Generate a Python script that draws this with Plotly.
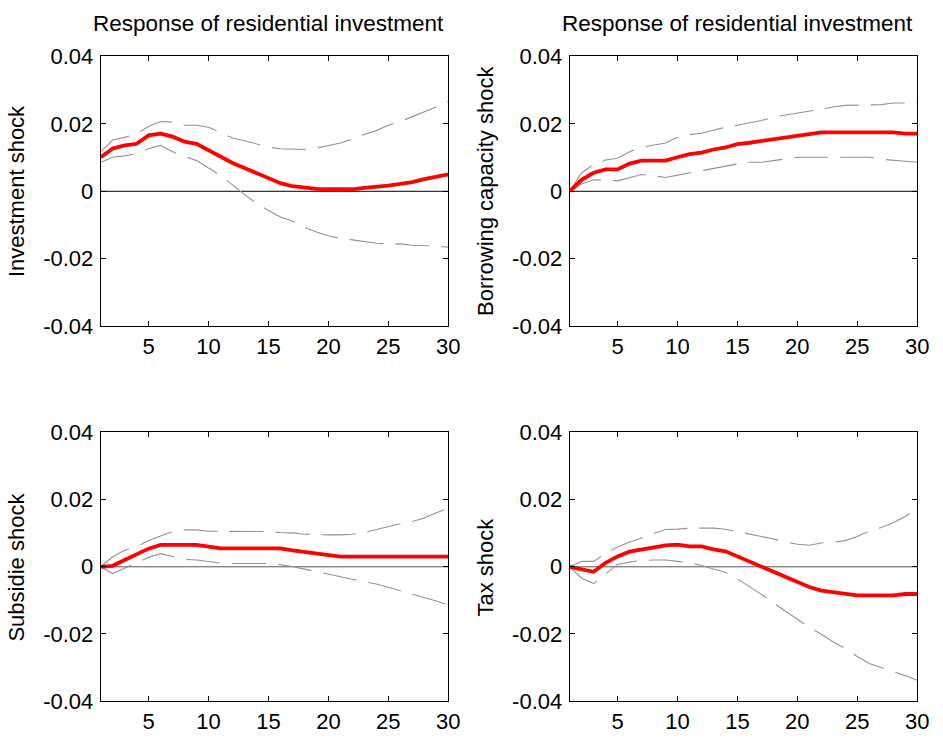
import plotly.graph_objects as go

horizon = list(range(1, 31))

# Investment shock
inv_irf = [0.0101, 0.0127, 0.0136, 0.0141, 0.0166, 0.0171, 0.0162, 0.0147, 0.0141, 0.0122,
           0.0103, 0.0084, 0.0069, 0.0053, 0.0038, 0.0024, 0.0015, 0.0010, 0.0007, 0.0006,
           0.0006, 0.0006, 0.0010, 0.0013, 0.0017, 0.0022, 0.0027, 0.0036, 0.0044, 0.0050]
inv_hi = [0.0117, 0.0152, 0.0160, 0.0170, 0.0193, 0.0207, 0.0205, 0.0196, 0.0196, 0.0190,
          0.0174, 0.0158, 0.0150, 0.0141, 0.0131, 0.0126, 0.0124, 0.0124, 0.0128, 0.0136,
          0.0143, 0.0155, 0.0169, 0.0180, 0.0196, 0.0207, 0.0221, 0.0236, 0.0250, 0.0267]
inv_lo = [0.0086, 0.0101, 0.0105, 0.0112, 0.0126, 0.0136, 0.0117, 0.0103, 0.0091, 0.0069,
          0.0046, 0.0019, -0.0010, -0.0035, -0.0057, -0.0076, -0.0089, -0.0107, -0.0121, -0.0132,
          -0.0140, -0.0144, -0.0149, -0.0154, -0.0156, -0.0156, -0.0160, -0.0161, -0.0162, -0.0166]

# Borrowing capacity shock
bor_irf = [0.0, 0.0034, 0.0055, 0.0065, 0.0065, 0.0082, 0.0091, 0.0091, 0.0091, 0.0101,
           0.0110, 0.0115, 0.0124, 0.0130, 0.0140, 0.0144, 0.0149, 0.0154, 0.0160, 0.0164,
           0.0169, 0.0175, 0.0175, 0.0175, 0.0175, 0.0175, 0.0175, 0.0175, 0.0171, 0.0171]
bor_hi = [0.0, 0.0055, 0.0079, 0.0093, 0.0098, 0.0117, 0.0131, 0.0136, 0.0143, 0.0160,
          0.0168, 0.0172, 0.0181, 0.0190, 0.0196, 0.0202, 0.0210, 0.0220, 0.0226, 0.0234,
          0.0240, 0.0245, 0.0250, 0.0255, 0.0255, 0.0255, 0.0257, 0.0262, 0.0262, 0.0262]
bor_lo = [0.0, 0.0022, 0.0034, 0.0034, 0.0031, 0.0041, 0.0050, 0.0046, 0.0041, 0.0048,
          0.0055, 0.0060, 0.0069, 0.0074, 0.0081, 0.0086, 0.0086, 0.0091, 0.0096, 0.0101,
          0.0101, 0.0101, 0.0101, 0.0101, 0.0101, 0.0101, 0.0095, 0.0093, 0.0089, 0.0086]

# Subsidie shock
sub_irf = [0.0, 0.0003, 0.0020, 0.0037, 0.0054, 0.0065, 0.0065, 0.0065, 0.0065, 0.0060,
           0.0055, 0.0055, 0.0055, 0.0055, 0.0055, 0.0055, 0.0049, 0.0044, 0.0039, 0.0035,
           0.0030, 0.0030, 0.0030, 0.0030, 0.0030, 0.0030, 0.0030, 0.0030, 0.0030, 0.0030]
sub_hi = [0.0, 0.0030, 0.0049, 0.0060, 0.0078, 0.0092, 0.0105, 0.0110, 0.0110, 0.0106,
          0.0105, 0.0105, 0.0105, 0.0105, 0.0105, 0.0102, 0.0101, 0.0097, 0.0095, 0.0095,
          0.0095, 0.0097, 0.0102, 0.0111, 0.0118, 0.0128, 0.0135, 0.0145, 0.0161, 0.0174]
sub_lo = [0.0, -0.0020, -0.0004, 0.0012, 0.0028, 0.0039, 0.0030, 0.0022, 0.0020, 0.0015,
          0.0011, 0.0010, 0.0010, 0.0010, 0.0010, 0.0006, 0.0001, -0.0007, -0.0014, -0.0022,
          -0.0030, -0.0037, -0.0045, -0.0051, -0.0061, -0.0071, -0.0081, -0.0090, -0.0102, -0.0114]

# Tax shock
tax_irf = [0.0, -0.0008, -0.0015, 0.0012, 0.0031, 0.0045, 0.0052, 0.0059, 0.0064, 0.0066,
           0.0061, 0.0061, 0.0052, 0.0046, 0.0031, 0.0014, 0.0000, -0.0015, -0.0031, -0.0046,
           -0.0060, -0.0071, -0.0076, -0.0080, -0.0085, -0.0085, -0.0085, -0.0085, -0.0081, -0.0081]
tax_hi = [0.0, 0.0016, 0.0016, 0.0040, 0.0059, 0.0074, 0.0086, 0.0098, 0.0111, 0.0112,
          0.0115, 0.0115, 0.0115, 0.0112, 0.0105, 0.0098, 0.0091, 0.0083, 0.0074, 0.0067,
          0.0064, 0.0071, 0.0073, 0.0078, 0.0090, 0.0107, 0.0117, 0.0131, 0.0150, 0.0175]
tax_lo = [0.0, -0.0034, -0.0050, -0.0022, 0.0007, 0.0014, 0.0019, 0.0020, 0.0020, 0.0016,
          0.0012, 0.0004, -0.0006, -0.0017, -0.0036, -0.0058, -0.0082, -0.0108, -0.0132, -0.0156,
          -0.0180, -0.0201, -0.0224, -0.0243, -0.0267, -0.0288, -0.0300, -0.0310, -0.0324, -0.0338]

panel_titles = ["Response of residential investment", "Response of residential investment", "", ""]
shock_labels = ["Investment shock", "Borrowing capacity shock", "Subsidie shock", "Tax shock"]
x_ticks = [5, 10, 15, 20, 25, 30]
y_ticks = [-0.04, -0.02, 0, 0.02, 0.04]
y_tick_text = ["-0.04", "-0.02", "0", "0.02", "0.04"]

panels = [
    (inv_irf, inv_hi, inv_lo),
    (bor_irf, bor_hi, bor_lo),
    (sub_irf, sub_hi, sub_lo),
    (tax_irf, tax_hi, tax_lo),
]
zero_colors = ["black", "black", "#555555", "#555555"]

W, H = 943, 747
# plot-area rectangles in pixels: (left, right, top, bottom)
boxes = [
    (102, 454, 46, 325),
    (577, 929, 46, 325),
    (102, 454, 435, 713),
    (577, 929, 435, 713),
]

FONT = "Liberation Sans, Arial, sans-serif"
fig = go.Figure()
layout = dict(
    width=W, height=H,
    margin=dict(l=0, r=0, t=0, b=0),
    paper_bgcolor="white", plot_bgcolor="white",
    showlegend=False,
    font=dict(family=FONT, size=22, color="black"),
    annotations=[],
)

for i, ((irf, hi, lo), (l, r, t, b)) in enumerate(zip(panels, boxes)):
    n = i + 1
    xa = "x" if n == 1 else f"x{n}"
    ya = "y" if n == 1 else f"y{n}"
    # zero reference line
    fig.add_trace(go.Scatter(x=[horizon[0], horizon[-1]], y=[0, 0], mode="lines",
                             line=dict(color=zero_colors[i], width=1), xaxis=xa, yaxis=ya,
                             hoverinfo="skip"))
    for band in (hi, lo):
        fig.add_trace(go.Scatter(x=horizon, y=band, mode="lines",
                                 line=dict(color="#939393", width=1.1, dash="34px,12px"),
                                 xaxis=xa, yaxis=ya))
    fig.add_trace(go.Scatter(x=horizon, y=irf, mode="lines",
                             line=dict(color="#ff0000", width=3.8),
                             xaxis=xa, yaxis=ya))

    xdom = [l / W, r / W]
    ydom = [1 - b / H, 1 - t / H]
    axis_common = dict(showline=True, linecolor="black", linewidth=1, mirror="ticks",
                       ticks="inside", ticklen=5, tickcolor="black", showgrid=False,
                       zeroline=False, tickfont=dict(family=FONT, size=22, color="black"))
    layout["xaxis" if n == 1 else f"xaxis{n}"] = dict(
        domain=xdom, range=[1, 30], tickvals=x_ticks, anchor=ya, **axis_common)
    layout["yaxis" if n == 1 else f"yaxis{n}"] = dict(
        domain=ydom, range=[-0.04, 0.04], tickvals=y_ticks, ticktext=y_tick_text,
        anchor=xa, ticklabelstandoff=2, **axis_common)

    if panel_titles[i]:
        layout["annotations"].append(dict(
            text=panel_titles[i], x=((l + r) / 2 - 6) / W, y=1 - 12 / H,
            xref="paper", yref="paper",
            showarrow=False, xanchor="center", yanchor="middle",
            font=dict(family=FONT, size=22.5, color="black")))
    layout["annotations"].append(dict(
        text=shock_labels[i], x=(l - 85) / W, y=1 - (t + b) / 2 / H, xref="paper", yref="paper",
        showarrow=False, textangle=-90, xanchor="center", yanchor="middle",
        font=dict(family=FONT, size=22, color="black")))

fig.update_layout(**layout)
fig.write_html("out.html")
